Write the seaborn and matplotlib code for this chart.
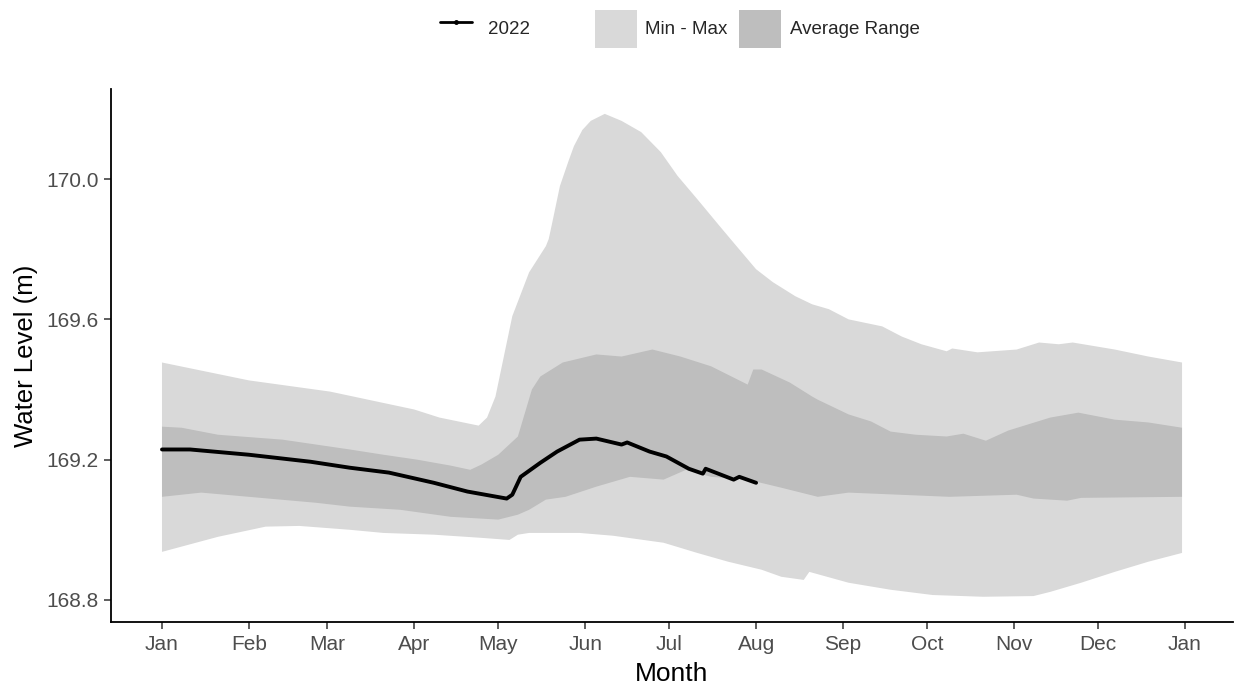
import numpy as np
import pandas as pd
import matplotlib
matplotlib.use("Agg")
import matplotlib.pyplot as plt
from matplotlib.lines import Line2D
from matplotlib.patches import Patch
import seaborn as sns

# day of year (0 = Jan 1) and water level (m)
max_day = [0, 31, 60, 90, 99, 113, 116, 119, 125, 131, 137, 138, 139, 142, 145, 147, 150, 153,
           158, 164, 171, 178, 184, 191, 199, 205, 212, 218, 226, 232, 238, 245, 257, 264,
           271, 280, 282, 291, 305, 313, 320, 325, 340, 352, 364]
max_lvl = [169.477, 169.426, 169.394, 169.343, 169.320, 169.297, 169.320, 169.380, 169.609,
           169.734, 169.809, 169.829, 169.866, 169.980, 170.050, 170.094, 170.140, 170.166,
           170.186, 170.166, 170.134, 170.077, 170.009, 169.943, 169.866, 169.809, 169.743,
           169.706, 169.666, 169.643, 169.629, 169.600, 169.580, 169.551, 169.529, 169.509,
           169.517, 169.506, 169.514, 169.534, 169.529, 169.534, 169.514, 169.494, 169.477]

min_day = [0, 20, 37, 49, 67, 79, 97, 114, 124, 127, 131, 149, 161, 179, 191, 202, 214, 221,
           229, 231, 245, 260, 275, 293, 311, 317, 328, 340, 352, 364]
min_lvl = [168.937, 168.980, 169.009, 169.011, 169.000, 168.991, 168.986, 168.977, 168.971,
           168.986, 168.991, 168.991, 168.983, 168.963, 168.934, 168.909, 168.886, 168.866,
           168.857, 168.880, 168.849, 168.829, 168.814, 168.809, 168.811, 168.823, 168.849,
           168.880, 168.909, 168.934]

avg_hi_day = [0, 7, 20, 43, 55, 67, 79, 91, 103, 110, 114, 120, 127, 132, 135, 143, 155, 164,
              175, 185, 196, 209, 211, 214, 224, 232, 234, 245, 253, 260, 269, 280, 286, 294,
              302, 317, 327, 340, 352, 364]
avg_hi_lvl = [169.294, 169.291, 169.271, 169.257, 169.243, 169.229, 169.214, 169.200, 169.183,
              169.171, 169.186, 169.214, 169.266, 169.400, 169.437, 169.477, 169.500, 169.494,
              169.514, 169.494, 169.466, 169.414, 169.457, 169.457, 169.420, 169.380, 169.371,
              169.329, 169.309, 169.280, 169.271, 169.266, 169.274, 169.254, 169.283, 169.320,
              169.334, 169.314, 169.306, 169.291]

avg_lo_day = [0, 14, 31, 55, 67, 85, 103, 120, 127, 131, 137, 144, 155, 167, 179, 187, 196,
              209, 221, 234, 245, 263, 281, 305, 311, 323, 328, 364]
avg_lo_lvl = [169.094, 169.106, 169.094, 169.077, 169.066, 169.057, 169.037, 169.029, 169.043,
              169.057, 169.086, 169.094, 169.123, 169.151, 169.143, 169.171, 169.151, 169.143,
              169.120, 169.094, 169.106, 169.100, 169.094, 169.100, 169.089, 169.083, 169.091,
              169.094]

y2022_day = [0, 10, 31, 53, 67, 81, 97, 109, 123, 125, 128, 135, 141, 149, 155, 164, 166, 174,
             180, 188, 193, 194, 204, 206, 212]
y2022_lvl = [169.229, 169.229, 169.214, 169.194, 169.177, 169.163, 169.134, 169.109, 169.089,
             169.100, 169.151, 169.191, 169.223, 169.257, 169.260, 169.243, 169.249, 169.223,
             169.209, 169.174, 169.160, 169.174, 169.143, 169.151, 169.134]

light = "#D9D9D9"
dark = "#BEBEBE"

sns.set_theme(style="ticks")
plt.rcParams["font.family"] = ["Liberation Sans", "DejaVu Sans"]

fig = plt.figure(figsize=(12.36, 6.87), dpi=100)
ax = fig.add_axes([0.0898, 0.0946, 0.9078, 0.7759])

# bands as closed polygons: upper edge forward, lower edge back
ax.fill(max_day + min_day[::-1], max_lvl + min_lvl[::-1], color=light, lw=0)
ax.fill(avg_hi_day + avg_lo_day[::-1], avg_hi_lvl + avg_lo_lvl[::-1], color=dark, lw=0)

line_df = pd.DataFrame({"day": y2022_day, "level": y2022_lvl})
sns.lineplot(data=line_df, x="day", y="level", color="black", lw=2.8, ax=ax)

start = pd.Timestamp("2022-01-01")
months = pd.date_range("2022-01-01", "2023-01-01", freq="MS")
ax.set_xticks((months - start).days)
ax.set_xticklabels(months.strftime("%b"))
ax.set_yticks([168.8, 169.2, 169.6, 170.0])
ax.set_yticklabels(["168.8", "169.2", "169.6", "170.0"])
ax.set_xlim(-18.2, 382.2)
ax.set_ylim(168.737, 170.257)

ax.set_xlabel("Month", fontsize=19, color="black", labelpad=6)
ax.set_ylabel("Water Level (m)", fontsize=18.5, color="black", labelpad=6)
ax.tick_params(axis="both", labelsize=15, labelcolor="#4D4D4D", color="#333333",
               length=5, width=1.1, pad=4)
for side in ["top", "right"]:
    ax.spines[side].set_visible(False)
for side in ["left", "bottom"]:
    ax.spines[side].set_color("black")
    ax.spines[side].set_linewidth(1.3)

# two separate legends, like the line and fill guides of the original
fig.legend([Line2D([0], [0], color="black", lw=2, marker="o", markersize=2.5)],
           ["2022"], loc="center left", bbox_to_anchor=(0.356, 0.958),
           frameon=False, fontsize=13.5, handlelength=1.7, handleheight=2.7,
           handletextpad=0.85, borderpad=0, borderaxespad=0)
fig.legend([Patch(facecolor=light, edgecolor="none"), Patch(facecolor=dark, edgecolor="none")],
           ["Min - Max", "Average Range"], loc="center left", bbox_to_anchor=(0.4814, 0.958),
           ncol=2, frameon=False, fontsize=13.5, handlelength=2.24, handleheight=2.7,
           handletextpad=0.43, columnspacing=0.64, borderpad=0, borderaxespad=0)

fig.savefig("out.png", dpi=100)
